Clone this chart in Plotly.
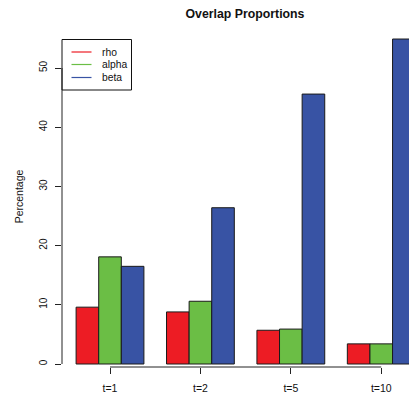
import plotly.graph_objects as go

categories = ["t=1", "t=2", "t=5", "t=10"]
series_names = ["rho", "alpha", "beta"]
rho = [9.6, 8.8, 5.7, 3.4]
alpha = [18.1, 10.6, 5.9, 3.4]
beta = [16.5, 26.4, 45.6, 54.9]
colors = ["#ED1C24", "#6BBE45", "#3853A4"]
y_ticks = [0, 10, 20, 30, 40, 50]

values = [rho, alpha, beta]
FONT = "Liberation Sans, Arial, Helvetica, sans-serif"

fig = go.Figure()
for name, vals, col in zip(series_names, values, colors):
    fig.add_trace(go.Bar(
        x=categories, y=vals, name=name, showlegend=False,
        marker=dict(color=col, line=dict(color="#1a1a1a", width=1)),
    ))

W, H = 409, 393
ml, mr, mt, mb = 62, 0, 26, 26
pw, ph = W - ml - mr, H - mt - mb

def px(x):
    return (x - ml) / pw

def py(y):
    return (H - mb - y) / ph

shapes = []
annotations = []
# legend box
shapes.append(dict(type="rect", xref="paper", yref="paper",
                   x0=px(62), x1=px(131.5), y0=py(90), y1=py(39.5),
                   line=dict(color="#111", width=1), fillcolor="white", layer="above"))
rows = [52, 64.5, 77.5]
for name, col, yr in zip(series_names, colors, rows):
    shapes.append(dict(type="line", xref="paper", yref="paper",
                       x0=px(71.5), x1=px(91.5), y0=py(yr), y1=py(yr),
                       line=dict(color=col, width=1.2), layer="above"))
    annotations.append(dict(text=name, xref="paper", yref="paper",
                            x=px(100), y=py(yr), xanchor="left", yanchor="middle",
                            showarrow=False, font=dict(family=FONT, size=10.3, color="#111")))

# R-style axis lines spanning first to last tick
shapes.append(dict(type="line", xref="x", yref="paper",
                   x0=0, x1=len(categories) - 1, y0=0, y1=0,
                   line=dict(color="#222", width=1)))
shapes.append(dict(type="line", xref="paper", yref="y",
                   x0=0, x1=0, y0=y_ticks[0], y1=y_ticks[-1],
                   line=dict(color="#222", width=1)))

y_per_px = 1 / 5.92
fig.update_layout(
    width=W, height=H,
    margin=dict(l=ml, r=mr, t=mt, b=mb, autoexpand=False),
    plot_bgcolor="white", paper_bgcolor="white",
    barmode="group", bargap=0.25, bargroupgap=0,
    title=dict(text="<b>Overlap Proportions</b>", x=245 / W, xref="container", xanchor="center",
               y=1 - 14 / H, yref="container", yanchor="middle",
               font=dict(family=FONT, size=12.3, color="#111")),
    xaxis=dict(range=[-0.531, 3.307], showline=False, showgrid=False, zeroline=False,
               ticks="outside", ticklen=6, tickwidth=1, tickcolor="#222",
               tickfont=dict(family=FONT, size=10.5, color="#111"),
               ticklabelstandoff=5),
    yaxis=dict(range=[-3 * y_per_px, 57.1], showline=False, showgrid=False, zeroline=False,
               tickvals=y_ticks, ticks="outside", ticklen=6, tickwidth=1, tickcolor="#222",
               tickangle=-90, tickfont=dict(family=FONT, size=10, color="#111"),
               ticklabelstandoff=4,
               title=dict(text="Percentage", standoff=12,
                          font=dict(family=FONT, size=10.5, color="#111"))),
    shapes=shapes, annotations=annotations,
    showlegend=False,
)

fig.write_html("out.html", config={"displayModeBar": False},
               post_script="document.body.style.margin='0px';")
